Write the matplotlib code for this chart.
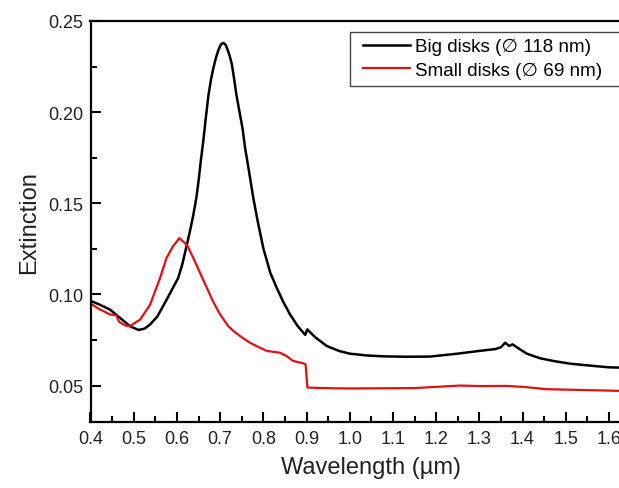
import matplotlib
matplotlib.use('Agg')
import matplotlib.pyplot as plt
from matplotlib.patches import Rectangle
from matplotlib.ticker import MultipleLocator

plt.rcParams['font.family'] = ['Liberation Sans', 'DejaVu Sans']

# Big disks (black)
wl_big = [0.400, 0.420, 0.445, 0.468, 0.491, 0.511, 0.525, 0.538, 0.555, 0.569,
          0.585, 0.603, 0.613, 0.623, 0.630, 0.638, 0.645, 0.650, 0.656, 0.661,
          0.667, 0.673, 0.679, 0.684, 0.690, 0.696, 0.702, 0.707, 0.712, 0.717,
          0.722, 0.727, 0.732, 0.738, 0.745, 0.752, 0.758, 0.762, 0.770, 0.777,
          0.788, 0.800, 0.816, 0.831, 0.846, 0.862, 0.880, 0.897, 0.902, 0.920,
          0.947, 0.975, 1.000, 1.040, 1.080, 1.130, 1.186, 1.250, 1.300, 1.337,
          1.350, 1.360, 1.369, 1.377, 1.390, 1.410, 1.440, 1.471, 1.510, 1.549,
          1.600, 1.650]
ext_big = [0.0965, 0.0945, 0.0917, 0.0872, 0.0826, 0.0805, 0.0812, 0.0835, 0.0880, 0.0940,
           0.1010, 0.1090, 0.1170, 0.1272, 0.1345, 0.1436, 0.1530, 0.1619, 0.1746, 0.1840,
           0.1970, 0.2092, 0.2180, 0.2238, 0.2295, 0.2340, 0.2372, 0.2380, 0.2372, 0.2345,
           0.2310, 0.2265, 0.2190, 0.2092, 0.2000, 0.1910, 0.1800, 0.1746, 0.1630, 0.1527,
           0.1390, 0.1254, 0.1120, 0.1036, 0.0960, 0.0890, 0.0825, 0.0778, 0.0808, 0.0765,
           0.0717, 0.0690, 0.0675, 0.0665, 0.0660, 0.0658, 0.0659, 0.0675, 0.0690, 0.0700,
           0.0710, 0.0735, 0.0717, 0.0726, 0.0705, 0.0675, 0.0650, 0.0635, 0.0620, 0.0611,
           0.0600, 0.0597]

# Small disks (red)
wl_small = [0.400, 0.420, 0.445, 0.460, 0.466, 0.480, 0.491, 0.515, 0.538, 0.561,
            0.576, 0.590, 0.6055, 0.623, 0.638, 0.657, 0.684, 0.700, 0.719, 0.731,
            0.750, 0.769, 0.790, 0.808, 0.839, 0.855, 0.869, 0.893, 0.898, 0.902,
            0.930, 0.962, 1.000, 1.078, 1.150, 1.255, 1.300, 1.360, 1.400, 1.456,
            1.550, 1.621, 1.650]
ext_small = [0.0950, 0.0920, 0.0890, 0.0885, 0.0850, 0.0830, 0.0826, 0.0862, 0.0944, 0.1090,
             0.1200, 0.1260, 0.1309, 0.1272, 0.1200, 0.1100, 0.0960, 0.0890, 0.0826, 0.0799,
             0.0765, 0.0735, 0.0710, 0.0690, 0.0680, 0.0660, 0.0635, 0.0622, 0.0615, 0.0489,
             0.0487, 0.0485, 0.0484, 0.0485, 0.0486, 0.0500, 0.0497, 0.0498, 0.0493, 0.0480,
             0.0475, 0.0471, 0.0470]

labels = ['Big disks (\u2205 118 nm)', 'Small disks (\u2205 69 nm)']

fig = plt.figure(figsize=(6.19, 4.89), dpi=100)
# axes runs past the right edge of the picture, like the cropped original
ax = fig.add_axes([90.5/619, 66/489, 1.3*432/619, 401/489])

ax.plot(wl_big, ext_big, color='black', lw=1.8, label=labels[0])
ax.plot(wl_small, ext_small, color='#e01010', lw=1.6, label=labels[1])

ax.set_xlim(0.4, 1.7)
ax.set_ylim(0.03, 0.25)
ax.xaxis.set_major_locator(MultipleLocator(0.1))
ax.xaxis.set_minor_locator(MultipleLocator(0.05))
ax.yaxis.set_major_locator(MultipleLocator(0.05))
ax.yaxis.set_minor_locator(MultipleLocator(0.025))
ax.xaxis.set_major_formatter(plt.FormatStrFormatter('%.1f'))
ax.yaxis.set_major_formatter(plt.FormatStrFormatter('%.2f'))

ax.tick_params(which='major', direction='in', length=7, width=1.5, labelsize=13,
               colors='black', labelcolor='#222222')
ax.tick_params(which='minor', direction='in', length=4, width=1.5)
ax.tick_params(axis='x', which='major', pad=6)
ax.tick_params(axis='y', which='major', pad=5)
for s in ax.spines.values():
    s.set_linewidth(1.6)

ax.set_xlabel('Wavelength (\u00b5m)', fontsize=17, labelpad=6, color='#222222')
ax.set_ylabel('Extinction', fontsize=17, labelpad=6, color='#222222')

# legend box is drawn by hand so it can run off the right edge
ax.add_patch(Rectangle((350/619, 1 - 87/489), 300/619, 54/489,
                       transform=fig.transFigure, facecolor='white',
                       edgecolor='#444444', linewidth=1.0, zorder=4,
                       clip_on=False))
leg = ax.legend(loc='upper left', bbox_to_anchor=(363/619, 1 - 39/489),
                bbox_transform=fig.transFigure, borderaxespad=0, borderpad=0,
                fontsize=13.6, frameon=False, handlelength=2.5,
                handletextpad=0.25, labelspacing=0.33)
leg.set_zorder(5)

fig.savefig('out.png', dpi=100)
plt.close('all')
